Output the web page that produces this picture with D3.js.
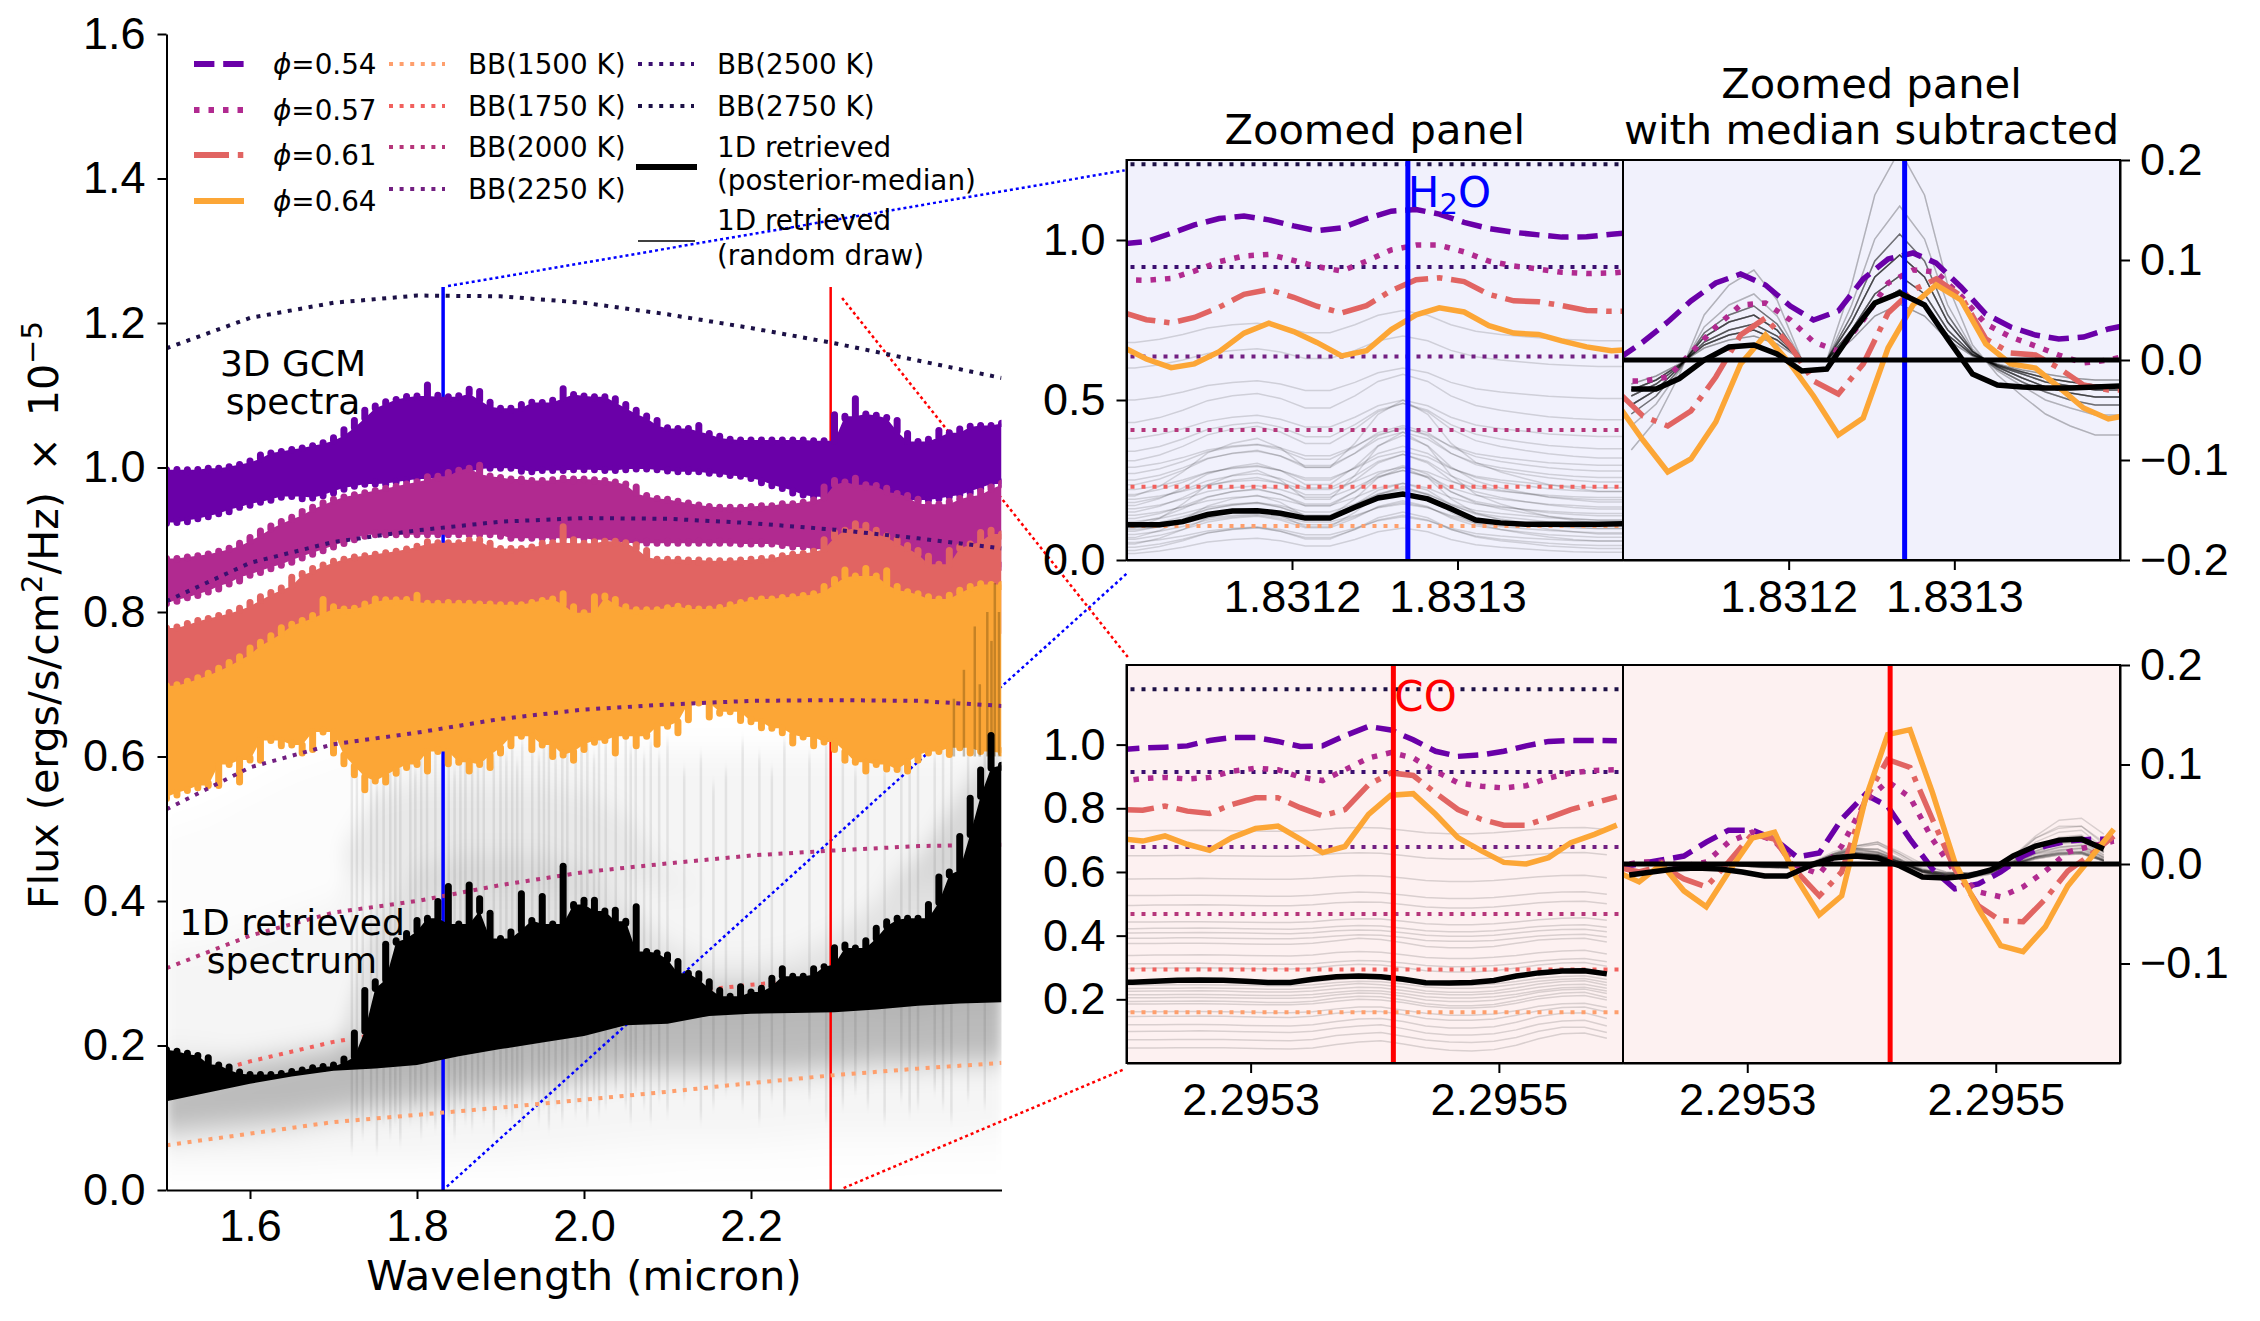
<!DOCTYPE html>
<html>

<head>
    <meta charset="utf-8">
    <style>
        body {
            margin: 0;
            background: #fff;
        }

        svg {
            display: block;
            font-family: "DejaVu Sans", sans-serif;
        }

        .tick text {
            font-size: 45px;
            fill: #000;
        }

        .tick line,
        .domain {
            stroke: #000;
            stroke-width: 2px;
        }

        .legend text {
            font-size: 27.8px;
        }
    </style>
</head>

<body>
    <svg width="2260" height="1321"></svg>
</body>

<script src="https://d3js.org/d3.v7.min.js"></script>

<script>
    // ---- main panel: edges of the spectra ----
    let mainWave = [
        1.5, 1.5125, 1.525, 1.5375, 1.55, 1.5625, 1.575, 1.5875, 1.6, 1.6125,
        1.625, 1.6375, 1.65, 1.6625, 1.675, 1.6875, 1.7, 1.7125, 1.725, 1.7375,
        1.75, 1.7625, 1.775, 1.7875, 1.8, 1.8125, 1.825, 1.8375, 1.85, 1.8625,
        1.875, 1.8875, 1.9, 1.9125, 1.925, 1.9375, 1.95, 1.9625, 1.975, 1.9875,
        2.0, 2.0125, 2.025, 2.0375, 2.05, 2.0625, 2.075, 2.0875, 2.1, 2.1125,
        2.125, 2.1375, 2.15, 2.1625, 2.175, 2.1875, 2.2, 2.2125, 2.225, 2.2375,
        2.25, 2.2625, 2.275, 2.2875, 2.3, 2.3125, 2.325, 2.3375, 2.35, 2.3625,
        2.375, 2.3875, 2.4, 2.4125, 2.425, 2.4375, 2.45, 2.4625, 2.475, 2.4875,
        2.5]

    let coarseWave = [1.5, 1.55, 1.6, 1.65, 1.7, 1.75, 1.8, 1.85, 1.9, 1.95, 2.0, 2.05, 2.1, 2.15, 2.2, 2.25, 2.3, 2.35, 2.4, 2.45, 2.5]

    let phi054Top = [
        .999, 1.002, .999, 1.002, 1.001, 1.003, 1.006, 1.009, 1.014, 1.022,
        1.024, 1.027, 1.029, 1.032, 1.035, 1.039, 1.046, 1.057, 1.070, 1.084,
        1.090, 1.096, 1.099, 1.103, 1.101, 1.119, 1.105, 1.100, 1.104, 1.113,
        1.110, 1.095, 1.086, 1.084, 1.092, 1.095, 1.092, 1.098, 1.114, 1.103,
        1.103, 1.101, 1.100, 1.100, 1.092, 1.084, 1.076, 1.070, 1.060, 1.056,
        1.058, 1.063, 1.052, 1.048, 1.043, 1.041, 1.040, 1.042, 1.040, 1.041,
        1.043, 1.040, 1.040, 1.039, 1.078, 1.073, 1.100, 1.076, 1.077, 1.074,
        1.070, 1.052, 1.038, 1.044, 1.056, 1.050, 1.058, 1.062, 1.060, 1.063,
        1.066]
    let phi054Bottom = [
        .918, .922, .920, .925, .927, .931, .934, .940, .943, .948,
        .950, .954, .958, .952, .953, .956, .960, .965, .970, .972,
        .975, .972, .976, .978, .980, .982, .980, .984, .987, .988,
        .992, .996, .997, .995, .990, .992, .992, .994, .993, .994,
        .995, .993, .992, .994, .992, .996, .995, .993, .992, .990,
        .992, .990, .989, .987, .986, .983, .980, .974, .970, .966,
        .960, .958, .955, .957, .955, .952, .950, .952, .950, .952,
        .948, .950, .953, .950, .952, .955, .958, .960, .965, .970,
        .975]
    let phi057Top = [
        .876, .878, .880, .882, .885, .889, .893, .900, .908, .917,
        .924, .930, .936, .944, .950, .956, .961, .964, .967, .970,
        .973, .976, .979, .982, .985, .992, .990, .998, 1.001, 1.002,
        1.008, .993, .990, .988, .986, .987, .984, .988, .990, .986,
        .988, .986, .985, .984, .982, .978, .966, .962, .959, .958,
        .955, .953, .950, .948, .947, .948, .950, .949, .952, .952,
        .954, .956, .960, .978, .987, .982, .990, .978, .980, .976,
        .968, .966, .961, .952, .951, .958, .962, .964, .972, .978,
        .983]
    let phi057Bottom = [
        .807, .810, .815, .818, .823, .827, .834, .838, .846, .850,
        .855, .860, .864, .870, .875, .880, .885, .890, .895, .900,
        .905, .905, .905, .905, .905, .905, .905, .905, .905, .905,
        .905, .905, .900, .900, .900, .900, .900, .900, .900, .900,
        .898, .898, .896, .894, .893, .892, .893, .891, .893, .892,
        .892, .893, .891, .893, .892, .890, .892, .892, .890, .888,
        .888, .885, .885, .885, .885, .885, .885, .880, .880, .880,
        .860, .860, .860, .860, .860, .860, .860, .860, .860, .860,
        .860]
    let phi061Top = [
        .780, .784, .789, .793, .796, .800, .804, .810, .818, .826,
        .832, .838, .853, .858, .865, .870, .875, .878, .880, .882,
        .884, .886, .889, .892, .896, .902, .899, .898, .900, .904,
        .905, .900, .892, .890, .892, .894, .900, .898, .923, .905,
        .897, .902, .901, .900, .900, .898, .890, .878, .875, .876,
        .875, .874, .875, .873, .875, .874, .878, .876, .880, .882,
        .883, .885, .889, .905, .915, .918, .927, .925, .918, .910,
        .905, .897, .890, .882, .868, .890, .895, .899, .915, .918,
        .91]
    let phi064Top = [
        .700, .704, .709, .714, .720, .727, .735, .743, .755, .763,
        .772, .783, .788, .793, .800, .822, .812, .806, .810, .816,
        .823, .820, .819, .822, .828, .816, .814, .818, .815, .814,
        .816, .813, .815, .812, .815, .818, .820, .822, .830, .812,
        .801, .826, .827, .822, .812, .806, .805, .808, .810, .812,
        .810, .806, .807, .811, .815, .818, .821, .820, .822, .823,
        .825, .826, .830, .840, .850, .863, .852, .865, .852, .862,
        .840, .832, .830, .826, .820, .828, .835, .840, .844, .842,
        .84]
    let phi064Bottom = [
        .537, .542, .548, .552, .558, .555, .587, .560, .593, .590,
        .620, .610, .614, .600, .605, .632, .600, .585, .570, .549,
        .564, .560, .572, .580, .587, .575, .605, .585, .590, .575,
        .587, .580, .600, .610, .626, .605, .614, .595, .600, .590,
        .605, .615, .620, .600, .626, .610, .626, .612, .640, .628,
        .646, .672, .650, .655, .660, .645, .646, .635, .637, .628,
        .614, .625, .610, .618, .605, .590, .590, .575, .587, .578,
        .580, .575, .590, .600, .605, .598, .610, .600, .605, .598,
        .603]
    let retrievedTop = [
        .196, .197, .194, .190, .188, .176, .175, .168, .163, .162,
        .163, .166, .168, .171, .174, .173, .178, .186, .222, .281,
        .293, .345, .350, .360, .378, .378, .404, .425, .370, .427,
        .408, .388, .350, .362, .415, .375, .411, .370, .453, .397,
        .406, .406, .388, .392, .374, .397, .332, .332, .330, .321,
        .302, .304, .293, .281, .270, .286, .276, .284, .298, .311,
        .298, .300, .311, .314, .340, .344, .337, .350, .367, .376,
        .381, .378, .378, .400, .438, .445, .494, .547, .586, .634,
        .590]

    let phi061Bottom = [.665, .69, .72, .74, .76, .77, .78, .78, .78, .78, .78, .79, .79, .79, .78, .78, .78, .77, .76, .76, .77]
    let retrievedBottom = [.123, .135, .147, .157, .165, .168, .173, .185, .195, .204, .213, .228, .23, .241, .244, .245, .246, .25, .255, .258, .26]

    // grey haze of the random draws behind everything
    let hazeTops = [
        [.50, .52, .55, .58, .60, .62, .62, .62, .62, .62, .62, .62, .62, .62, .62, .62, .62, .62, .62, .62, .62],
        [.33, .34, .36, .38, .40, .55, .60, .62, .62, .62, .60, .60, .60, .60, .60, .60, .60, .60, .60, .60, .60],
        [.46, .46, .46, .46, .46, .55, .56, .56, .56, .56, .55, .52, .44, .42, .42, .42, .42, .42, .46, .56, .62],
        [.19, .185, .175, .175, .19, .38, .44, .46, .46, .46, .44, .40, .34, .31, .31, .32, .35, .40, .46, .54, .62],
        [.15, .16, .175, .185, .195, .20, .21, .22, .23, .235, .245, .26, .265, .27, .27, .275, .275, .28, .285, .29, .29]]
    let hazeBottoms = [
        [.02, .02, .02, .02, .02, .02, .02, .02, .02, .02, .02, .02, .025, .03, .03, .03, .035, .035, .04, .04, .04],
        [.04, .04, .04, .04, .045, .045, .045, .05, .05, .055, .06, .065, .07, .07, .07, .075, .08, .08, .08, .08, .085],
        [.46, .46, .46, .46, .46, .42, .42, .42, .42, .42, .42, .42, .42, .42, .42, .42, .42, .42, .42, .42, .42],
        [.16, .16, .17, .17, .18, .18, .18, .19, .20, .21, .22, .23, .24, .24, .24, .25, .25, .25, .25, .26, .26],
        [.08, .085, .09, .095, .105, .115, .12, .13, .135, .145, .155, .165, .165, .165, .165, .165, .17, .175, .175, .178, .178]]
    let hazeAlpha = [.012, .03, .05, .08, .24]

    // vertical streaks in the haze
    let streakWave = [1.722, 1.728, 1.735, 1.745, 1.752, 1.76, 1.768, 1.774, 1.78, 1.792, 1.798, 1.805, 1.812, 1.822, 1.83, 1.838, 1.845, 1.852, 1.858, 1.866, 1.873, 1.88, 1.892, 1.9, 1.907, 1.914, 1.92, 1.926, 1.938, 1.946, 1.952, 1.958, 1.966, 1.974, 1.98, 1.99, 1.997, 2.004, 2.012, 2.018, 2.026, 2.038, 2.05, 2.056, 2.062, 2.072, 2.08, 2.09, 2.1, 2.12, 2.14, 2.155, 2.17, 2.19, 2.21, 2.225, 2.24, 2.27, 2.29, 2.31, 2.325, 2.34, 2.36, 2.38, 2.39, 2.4, 2.42, 2.43, 2.44, 2.46, 2.48]
    let streakTop = [.60, .58, .60, .61, .56, .62, .60, .58, .62, .61, .58, .62, .60, .61, .60, .62, .58, .61, .60, .62, .59, .62, .60, .62, .60, .62, .59, .62, .61, .60, .62, .62, .60, .62, .62, .60, .62, .62, .60, .63, .62, .60, .64, .61, .63, .60, .62, .60, .62, .58, .60, .56, .58, .62, .60, .58, .62, .60, .62, .60, .58, .60, .58, .60, .61, .60, .60, .61, .62, .61, .62]
    let streakBottom = [.06, .10, .08, .10, .06, .10, .08, .10, .07, .10, .12, .08, .10, .09, .12, .10, .08, .12, .10, .09, .12, .10, .08, .12, .11, .10, .12, .09, .12, .10, .12, .09, .12, .10, .13, .11, .12, .10, .13, .11, .12, .14, .12, .10, .14, .12, .10, .13, .11, .13, .10, .12, .14, .12, .10, .13, .11, .13, .10, .12, .14, .12, .10, .13, .11, .12, .14, .12, .10, .13, .12]

    // darker stripes showing through the orange spectrum at the red end
    let stripeWave = [2.443, 2.455, 2.468, 2.474, 2.483, 2.488, 2.492, 2.497]
    let stripeTop = [.68, .72, .78, .70, .80, .76, .84, .80]

    // blackbody curves in the main panel
    let bbWave = [1.5, 1.6, 1.7, 1.8, 1.9, 2.0, 2.1, 2.2, 2.3, 2.4, 2.5]
    let bb1500 = [.062, .078, .094, .104, .114, .125, .136, .148, .159, .168, .176]
    let bb1750 = [.145, .178, .205, .225, .243, .258, .272, .284, .294, .303, .31]
    let bb2000 = [.307, .352, .384, .400, .422, .44, .452, .463, .47, .476, .478]
    let bb2250 = [.527, .585, .617, .633, .652, .665, .672, .677, .678, .677, .67]
    let bb2500 = [.815, .868, .897, .913, .925, .93, .929, .923, .914, .902, .888]
    let bb2750 = [1.165, 1.207, 1.228, 1.238, 1.237, 1.228, 1.212, 1.193, 1.172, 1.148, 1.124]

    // ---- zoomed panels ----
    let waveH2O = 1.83127
    let waveCO = 2.295415

    let bbLevelsH2O = [.106, .229, .406, .636, .916, 1.237]
    let bbLevelsCO = [.159, .294, .468, .678, .914, 1.174]

    let gridH2O = [1.831097, 1.831112, 1.831127, 1.831141, 1.831156, 1.831171, 1.831186, 1.831201, 1.831215, 1.83123, 1.831245, 1.83126, 1.831275, 1.831289, 1.831304, 1.831319, 1.831334, 1.831349, 1.831363, 1.831378, 1.831393, 1.831408]
    let phi054H2O = [.988, .995, 1.021, 1.047, 1.067, 1.075, 1.063, 1.044, 1.029, 1.038, 1.067, 1.090, 1.095, 1.081, 1.055, 1.036, 1.024, 1.016, 1.009, 1.010, 1.018, 1.024]
    let phi057H2O = [.876, .874, .880, .903, .932, .950, .955, .936, .917, .903, .934, .969, .984, .984, .963, .934, .919, .909, .899, .895, .897, .903]
    let phi061H2O = [.775, .751, .741, .758, .790, .830, .845, .821, .793, .772, .795, .842, .876, .882, .870, .830, .810, .807, .795, .780, .777, .777]
    let phi064H2O = [.668, .628, .601, .613, .651, .709, .740, .714, .680, .638, .654, .720, .766, .788, .775, .732, .709, .705, .685, .666, .654, .659]
    let phi054H2OSub = [.001, .018, .038, .059, .077, .086, .075, .054, .040, .049, .081, .101, .107, .097, .073, .046, .033, .025, .021, .023, .031, .036]
    let phi057H2OSub = [-.021, -.021, -.017, .007, .033, .055, .057, .040, .018, .009, .040, .077, .090, .088, .064, .036, .023, .014, .005, -.003, 0, .006]
    let phi061H2OSub = [-.032, -.056, -.066, -.051, -.017, .025, .042, .014, -.021, -.034, -.004, .047, .070, .081, .064, .021, .007, .005, -.008, -.025, -.030, -.030]
    let phi064H2OSub = [-.045, -.080, -.112, -.099, -.062, -.004, .025, -.004, -.036, -.075, -.058, .012, .055, .075, .060, .016, -.004, -.008, -.027, -.048, -.059, -.054]

    let retGridH2O = [1.83109, 1.831105, 1.83112, 1.831134, 1.831149, 1.831164, 1.831179, 1.831193, 1.831208, 1.831223, 1.831238, 1.831252, 1.831267, 1.831282, 1.831296, 1.831311, 1.831326, 1.831341, 1.831355, 1.83137, 1.831385, 1.8314]
    let medianH2O = [.110, .110, .110, .120, .142, .153, .154, .146, .131, .131, .165, .194, .206, .191, .160, .125, .116, .112, .112, .112, .112, .113]
    let medianH2OSub = [-.029, -.029, -.029, -.0185, 0, .013, .015, .006, -.011, -.009, .027, .057, .067, .055, .021, -.014, -.025, -.027, -.028, -.028, -.027, -.026]

    // a sample of the random draws, one row per draw
    let drawsH2O = [
        [.020, .020, .028, .040, .056, .064, .068, .060, .044, .044, .064, .088, .100, .088, .064, .048, .040, .034, .030, .026, .024, .024],
        [.030, .030, .042, .060, .084, .096, .102, .090, .066, .066, .096, .132, .150, .132, .096, .072, .060, .052, .044, .040, .036, .036],
        [.040, .040, .050, .065, .085, .095, .100, .090, .070, .070, .095, .125, .140, .125, .095, .075, .065, .058, .052, .048, .045, .045],
        [.050, .050, .068, .095, .131, .149, .158, .140, .104, .104, .149, .203, .230, .203, .149, .113, .095, .082, .072, .064, .059, .059],
        [.055, .055, .063, .075, .091, .099, .103, .095, .079, .079, .099, .123, .135, .123, .099, .083, .075, .069, .065, .061, .059, .059],
        [.065, .065, .077, .095, .119, .131, .137, .125, .101, .101, .131, .167, .185, .167, .131, .107, .095, .087, .079, .075, .071, .071],
        [.070, .070, .092, .125, .169, .191, .202, .180, .136, .136, .191, .257, .290, .257, .191, .147, .125, .110, .096, .088, .081, .081],
        [.080, .080, .090, .105, .125, .135, .140, .130, .110, .110, .135, .165, .180, .165, .135, .115, .105, .098, .092, .088, .085, .085],
        [.090, .090, .105, .128, .158, .173, .180, .165, .135, .135, .173, .218, .240, .218, .173, .143, .128, .117, .108, .102, .098, .098],
        [.095, .095, .103, .115, .131, .139, .143, .135, .119, .119, .139, .163, .175, .163, .139, .123, .115, .109, .105, .101, .099, .099],
        [.100, .100, .130, .175, .235, .265, .280, .250, .190, .190, .265, .355, .400, .355, .265, .205, .175, .154, .136, .124, .115, .115],
        [.105, .105, .117, .135, .159, .171, .177, .165, .141, .141, .171, .207, .225, .207, .171, .147, .135, .127, .119, .115, .111, .111],
        [.115, .115, .133, .160, .196, .214, .223, .205, .169, .169, .214, .268, .295, .268, .214, .178, .160, .147, .137, .129, .124, .124],
        [.120, .120, .130, .145, .165, .175, .180, .170, .150, .150, .175, .205, .220, .205, .175, .155, .145, .138, .132, .128, .125, .125],
        [.130, .130, .145, .168, .198, .213, .220, .205, .175, .175, .213, .258, .280, .258, .213, .183, .168, .157, .148, .142, .138, .138],
        [.140, .140, .150, .165, .185, .195, .200, .190, .170, .170, .195, .225, .240, .225, .195, .175, .165, .158, .152, .148, .145, .145],
        [.150, .150, .168, .195, .231, .249, .258, .240, .204, .204, .249, .303, .330, .303, .249, .213, .195, .182, .172, .164, .159, .159],
        [.160, .160, .172, .190, .214, .226, .232, .220, .196, .196, .226, .262, .280, .262, .226, .202, .190, .182, .174, .170, .166, .166],
        [.170, .170, .192, .225, .269, .291, .302, .280, .236, .236, .291, .357, .390, .357, .291, .247, .225, .210, .196, .188, .181, .181],
        [.180, .180, .195, .218, .248, .263, .270, .255, .225, .225, .263, .308, .330, .308, .263, .233, .218, .207, .198, .192, .188, .188],
        [.190, .190, .200, .215, .235, .245, .250, .240, .220, .220, .245, .275, .290, .275, .245, .225, .215, .208, .202, .198, .195, .195],
        [.200, .200, .230, .275, .335, .365, .380, .350, .290, .290, .365, .455, .500, .455, .365, .305, .275, .254, .236, .224, .215, .215],
        [.205, .205, .220, .243, .273, .288, .295, .280, .250, .250, .288, .333, .355, .333, .288, .258, .243, .232, .223, .217, .213, .213],
        [.220, .220, .232, .250, .274, .286, .292, .280, .256, .256, .286, .322, .340, .322, .286, .262, .250, .242, .234, .230, .226, .226],
        [.235, .235, .253, .280, .316, .334, .343, .325, .289, .289, .334, .388, .415, .388, .334, .298, .280, .267, .257, .249, .244, .244],
        [.250, .250, .265, .288, .318, .333, .340, .325, .295, .295, .333, .378, .400, .378, .333, .303, .288, .277, .268, .262, .258, .258],
        [.270, .270, .285, .308, .338, .353, .360, .345, .315, .315, .353, .398, .420, .398, .353, .323, .308, .297, .288, .282, .278, .278],
        [.290, .290, .302, .320, .344, .356, .362, .350, .326, .326, .356, .392, .410, .392, .356, .332, .320, .312, .304, .300, .296, .296],
        [.310, .310, .328, .355, .391, .409, .418, .400, .364, .364, .409, .463, .490, .463, .409, .373, .355, .342, .332, .324, .319, .319],
        [.340, .340, .355, .378, .408, .423, .430, .415, .385, .385, .423, .468, .490, .468, .423, .393, .378, .367, .358, .352, .348, .348],
        [.380, .380, .392, .410, .434, .446, .452, .440, .416, .416, .446, .482, .500, .482, .446, .422, .410, .402, .394, .390, .386, .386],
        [.430, .430, .445, .468, .498, .513, .520, .505, .475, .475, .513, .558, .580, .558, .513, .483, .468, .457, .448, .442, .438, .438],
        [.500, .500, .510, .525, .545, .555, .560, .550, .530, .530, .555, .585, .600, .585, .555, .535, .525, .518, .512, .508, .505, .505],
        [.600, .600, .610, .625, .645, .655, .660, .650, .630, .630, .655, .685, .700, .685, .655, .635, .625, .618, .612, .608, .605, .605],
        [.680, .680, .690, .705, .725, .735, .740, .730, .710, .710, .735, .765, .780, .765, .735, .715, .705, .698, .692, .688, .685, .685]]

    let gridCO = [2.295194, 2.295213, 2.295231, 2.295249, 2.295267, 2.295285, 2.295304, 2.295322, 2.29534, 2.295358, 2.295376, 2.295395, 2.295413, 2.295431, 2.295449, 2.295467, 2.295486, 2.295504, 2.295522, 2.29554, 2.295558, 2.295577, 2.295595]
    let phi054CO = [.984, .989, .992, .996, 1.013, 1.022, 1.022, 1.010, .994, .996, 1.028, 1.057, 1.046, 1.015, .979, .963, .968, .979, .996, 1.010, 1.013, 1.013, 1.012]
    let phi057CO = [.885, .893, .897, .892, .897, .916, .926, .921, .898, .887, .921, .958, .975, .958, .916, .880, .869, .864, .871, .895, .911, .919, .921]
    let phi061CO = [.796, .794, .807, .791, .784, .812, .833, .833, .802, .776, .796, .874, .911, .903, .848, .796, .765, .747, .747, .770, .796, .817, .836]
    let phi064CO = [.705, .697, .713, .687, .668, .708, .737, .744, .703, .661, .680, .781, .841, .846, .781, .708, .666, .630, .625, .645, .692, .718, .747]
    let phi054COSub = [-.004, 0, .004, .008, .022, .034, .034, .025, .007, .011, .045, .070, .058, .025, -.005, -.025, -.020, -.008, .008, .018, .023, .025, .025]
    let phi057COSub = [-.003, .002, .002, -.002, .002, .022, .032, .023, -.002, -.010, .018, .063, .083, .067, .025, -.008, -.028, -.033, -.023, -.007, .012, .018, .023]
    let phi061COSub = [-.003, -.008, -.002, -.015, -.023, .002, .030, .025, -.008, -.032, -.008, .065, .105, .097, .045, -.005, -.042, -.057, -.058, -.035, -.007, .010, .028]
    let phi064COSub = [-.007, -.018, 0, -.027, -.043, -.008, .026, .032, -.015, -.051, -.032, .065, .130, .135, .072, .002, -.045, -.082, -.088, -.063, -.022, .007, .035]

    let retGridCO = [2.295187, 2.295205, 2.295223, 2.295241, 2.295259, 2.295278, 2.295296, 2.295314, 2.295332, 2.29535, 2.295369, 2.295387, 2.295405, 2.295423, 2.295441, 2.29546, 2.295478, 2.295496, 2.295514, 2.295532, 2.295551, 2.295569, 2.295587]
    let medianCO = [.254, .254, .257, .260, .261, .260, .257, .253, .253, .263, .271, .273, .271, .263, .252, .251, .253, .259, .273, .283, .289, .290, .280]
    let medianCOSub = [-.011, -.011, -.008, -.005, -.004, -.005, -.008, -.012, -.012, -.002, .006, .008, .006, -.002, -.013, -.014, -.012, -.006, .008, .018, .024, .025, .015]

    let drawsCO = [
        [.047, .047, .047, .048, .048, .048, .046, .045, .044, .047, .058, .066, .070, .060, .048, .040, .038, .042, .056, .076, .092, .094, .078],
        [.073, .073, .073, .074, .074, .074, .072, .071, .070, .074, .086, .092, .096, .084, .072, .066, .064, .068, .080, .100, .112, .112, .096],
        [.099, .099, .100, .100, .101, .100, .098, .097, .096, .100, .110, .116, .120, .108, .094, .088, .088, .092, .104, .122, .132, .134, .116],
        [.120, .120, .120, .121, .121, .120, .118, .117, .116, .120, .130, .138, .140, .130, .116, .110, .110, .114, .128, .146, .156, .158, .140],
        [.146, .146, .147, .147, .148, .147, .145, .144, .143, .147, .156, .162, .162, .152, .140, .134, .134, .138, .150, .164, .174, .176, .160],
        [.161, .161, .161, .162, .162, .161, .160, .158, .158, .161, .170, .176, .176, .166, .156, .150, .150, .154, .164, .178, .186, .188, .174],
        [.185, .185, .185, .186, .186, .185, .184, .183, .183, .186, .194, .200, .198, .190, .178, .173, .173, .177, .188, .202, .210, .212, .198],
        [.193, .193, .194, .194, .195, .194, .192, .190, .190, .194, .204, .210, .208, .198, .186, .180, .180, .184, .196, .210, .220, .222, .206],
        [.205, .205, .205, .206, .206, .205, .204, .203, .203, .206, .214, .220, .218, .210, .198, .193, .193, .197, .208, .222, .230, .232, .218],
        [.214, .214, .214, .215, .215, .214, .213, .212, .212, .215, .222, .228, .226, .218, .208, .204, .204, .208, .216, .228, .236, .238, .226],
        [.225, .225, .226, .226, .227, .226, .224, .223, .223, .226, .233, .238, .236, .228, .218, .214, .214, .218, .227, .238, .246, .247, .235],
        [.234, .234, .235, .235, .236, .235, .234, .232, .232, .236, .244, .250, .246, .238, .226, .222, .222, .226, .236, .248, .256, .258, .244],
        [.245, .245, .245, .246, .246, .245, .244, .243, .243, .246, .253, .257, .255, .248, .239, .235, .235, .239, .247, .257, .263, .265, .253],
        [.255, .255, .255, .256, .256, .255, .254, .252, .252, .255, .262, .266, .264, .256, .248, .244, .244, .248, .256, .266, .272, .274, .262],
        [.297, .297, .298, .298, .299, .298, .297, .296, .295, .298, .306, .310, .308, .300, .290, .286, .286, .290, .298, .308, .314, .316, .304],
        [.312, .312, .312, .313, .313, .312, .311, .310, .310, .312, .318, .322, .320, .314, .306, .302, .303, .306, .312, .320, .326, .328, .318],
        [.338, .338, .339, .339, .340, .339, .338, .337, .336, .339, .347, .350, .348, .340, .331, .328, .328, .332, .338, .346, .352, .354, .342],
        [.375, .375, .375, .376, .376, .375, .374, .373, .373, .376, .384, .392, .388, .378, .366, .362, .362, .366, .376, .386, .390, .392, .380],
        [.392, .392, .392, .393, .393, .392, .391, .390, .390, .393, .399, .403, .401, .394, .385, .382, .382, .385, .392, .399, .403, .404, .396],
        [.408, .408, .409, .409, .410, .409, .408, .407, .406, .409, .415, .418, .416, .409, .401, .398, .398, .401, .408, .415, .419, .420, .412],
        [.422, .422, .423, .423, .424, .423, .422, .421, .420, .423, .429, .432, .430, .423, .415, .412, .412, .415, .422, .429, .433, .434, .426],
        [.443, .443, .443, .444, .444, .443, .442, .441, .441, .444, .450, .453, .452, .445, .437, .434, .434, .437, .443, .450, .455, .456, .448],
        [.495, .495, .496, .496, .497, .496, .495, .494, .494, .497, .503, .506, .505, .498, .490, .487, .487, .490, .496, .503, .507, .508, .500],
        [.526, .526, .526, .527, .527, .526, .525, .524, .524, .527, .533, .537, .535, .528, .520, .517, .517, .520, .526, .533, .537, .538, .530],
        [.578, .578, .579, .579, .580, .579, .578, .577, .577, .580, .586, .589, .587, .581, .573, .570, .570, .573, .579, .585, .589, .590, .582],
        [.651, .651, .651, .652, .652, .651, .650, .649, .649, .652, .658, .660, .659, .652, .644, .641, .641, .644, .650, .656, .660, .661, .654],
        [.729, .729, .730, .730, .731, .730, .729, .728, .728, .731, .737, .740, .738, .731, .723, .720, .720, .723, .729, .735, .739, .740, .733]]

    let mainXTicks = [1.6, 1.8, 2.0, 2.2]
    let mainYTicks = [0, .2, .4, .6, .8, 1.0, 1.2, 1.4, 1.6]
    let h2oXTicks = [1.8312, 1.8313]
    let coXTicks = [2.2953, 2.2955]
    let h2oYTicks = [0, .5, 1.0]
    let coYTicks = [.2, .4, .6, .8, 1.0]
    let subYTicksH2O = [-.2, -.1, 0, .1, .2]
    let subYTicksCO = [-.1, 0, .1, .2]

    let phiLabels = ["=0.54", "=0.57", "=0.61", "=0.64"]
    let bbLabels = ["BB(1500 K)", "BB(1750 K)", "BB(2000 K)", "BB(2250 K)", "BB(2500 K)", "BB(2750 K)"]

    // same colours as the original (plasma for phases, magma for blackbodies)
    let phiColors = ["#6a00a8", "#b12a90", "#e16462", "#fca636"]
    let phiDash = ["20.4,8.8", "5.5,9", "35,8.8,5.5,8.8", null]
    let bbColors = ["#fe9f6d", "#f1605d", "#b5367a", "#721f81", "#3b0f70", "#1c1146"]

    let svg = d3.select("svg")
    let minus = s => s.replace("-", "\u2212")

    let x = d3.scaleLinear().domain([1.5, 2.5]).range([166.5, 1001.5])
    let y = d3.scaleLinear().domain([0, 1.6]).range([1190, 34])

    svg.append("clipPath").attr("id", "main-clip")
        .append("rect")
        .attr("x", x(1.5)).attr("y", y(1.6))
        .attr("width", x(2.5) - x(1.5)).attr("height", y(0) - y(1.6))

    // soften the haze, mostly up and down
    svg.append("filter").attr("id", "haze-blur")
        .attr("x", "-0.05").attr("width", "1.1").attr("y", "-0.2").attr("height", "1.4")
        .append("feGaussianBlur").attr("stdDeviation", "6 14")
    svg.append("filter").attr("id", "streak-blur")
        .attr("x", "-0.02").attr("width", "1.04").attr("y", "-0.2").attr("height", "1.4")
        .append("feGaussianBlur").attr("stdDeviation", "0 6")

    let main = svg.append("g").attr("clip-path", "url(#main-clip)")
    let outside = svg.append("g") // the connectors run out of the main panel

    let pts = (xs, ys) => d3.zip(xs, ys)
    let line = d3.line().x(d => x(d[0])).y(d => y(d[1]))
    // polygon between a top edge and a bottom edge
    let band = (xt, yt, xb, yb) => line(pts(xt, yt).concat(pts(xb, yb).reverse())) + "Z"

    // haze
    let hazeGroup = main.append("g").attr("filter", "url(#haze-blur)")
    hazeTops.forEach((top, i) => {
        hazeGroup.append("path")
            .attr("d", band(coarseWave, top, coarseWave, hazeBottoms[i]))
            .attr("fill", "#000")
            .attr("opacity", hazeAlpha[i])
    })
    main.append("g").attr("filter", "url(#streak-blur)")
        .selectAll("line")
        .data(streakWave)
        .join("line")
        .attr("x1", d => x(d)).attr("x2", d => x(d))
        .attr("y1", (d, i) => y(streakTop[i]))
        .attr("y2", (d, i) => y(streakBottom[i]))
        .attr("stroke", "#000").attr("stroke-width", 2.5).attr("opacity", .08)

    // connectors from the main panel to the zoomed panels
    let zoomX = d3.scaleLinear().domain([1.8311, 1.8314]).range([1126.5, 1623])
    let zoomXSub = d3.scaleLinear().domain([1.8311, 1.8314]).range([1623, 2120])
    let coX = d3.scaleLinear().domain([2.2952, 2.2956]).range([1126.5, 1623])
    let coXSub = d3.scaleLinear().domain([2.2952, 2.2956]).range([1623, 2120])
    let zoomY = d3.scaleLinear().domain([0, 1.25]).range([560, 160])
    let zoomYSub = d3.scaleLinear().domain([-.2, .2]).range([560, 160])
    let coY = d3.scaleLinear().domain([0, 1.25]).range([1063, 665])
    let coYSub = d3.scaleLinear().domain([-.2, .2]).range([1063, 665])

    function connector(wave, vMain, px, py, color, dash) {
        let x0 = x(wave), y0 = y(vMain)
        let len = Math.hypot(px - x0, py - y0)
        let ux = (px - x0) / len, uy = (py - y0) / len
        outside.append("line")
            .attr("x1", x0 + ux * 5).attr("y1", y0 + uy * 5)
            .attr("x2", px - ux * 14).attr("y2", py - uy * 14)
            .attr("stroke", color).attr("stroke-width", 2.5)
            .attr("stroke-dasharray", dash)
    }
    connector(waveH2O, 1.25, zoomX.range()[0] + 12, zoomY(1.25) + 8, "#00f", "3,3")
    connector(waveH2O, 0, zoomX.range()[0] + 12, zoomY(0) + 3, "#00f", "3,3")
    connector(waveCO + .01, 1.24, coX.range()[0] + 10, coY(1.25) + 3, "#f00", "3,3")
    connector(waveCO + .01, 0, coX.range()[0] + 10, coY(0) + 1, "#f00", "3,3")

    let vlineGroup = svg.append("g")
    vlineGroup.append("line")
        .attr("x1", x(waveH2O)).attr("x2", x(waveH2O))
        .attr("y1", y(1.25)).attr("y2", y(0))
        .attr("stroke", "#00f").attr("stroke-width", 3.5)
    vlineGroup.append("line")
        .attr("x1", x(waveCO)).attr("x2", x(waveCO))
        .attr("y1", y(1.25)).attr("y2", y(0))
        .attr("stroke", "#f00").attr("stroke-width", 2.5)

    let bandGroup = svg.append("g").attr("clip-path", "url(#main-clip)")

    // a flat body and one round-capped stroke per sample, which gives the spectrum its bumpy edge
    let lobeWidth = 7
    function innerEdge(vals, pick) {
        return vals.map((v, i) => pick(vals[Math.max(i - 1, 0)], v, vals[Math.min(i + 1, vals.length - 1)]))
    }
    function lobes(values, inner, shift, color) {
        bandGroup.append("g").selectAll("line")
            .data(mainWave)
            .join("line")
            .attr("x1", d => x(d)).attr("x2", d => x(d))
            .attr("y1", (d, i) => y(values[i]) + shift)
            .attr("y2", (d, i) => y(inner[i]))
            .attr("stroke", color)
            .attr("stroke-width", lobeWidth)
            .attr("stroke-linecap", "round")
    }
    function spectrum(top, bottomWave, bottom, color) {
        let innerTop = innerEdge(top, (a, b, c) => Math.min(a, b, c) - .002)
        let fine = bottomWave.length == mainWave.length
        let innerBottom = fine ? innerEdge(bottom, (a, b, c) => Math.max(a, b, c) + .002) : bottom
        bandGroup.append("path")
            .attr("d", band(mainWave, innerTop, bottomWave, innerBottom))
            .attr("fill", color)
        lobes(top, innerTop, lobeWidth / 2, color)
        if (fine) lobes(bottom, innerBottom, -lobeWidth / 2, color)
    }

    // the four GCM spectra
    spectrum(phi054Top, mainWave, phi054Bottom, phiColors[0])
    spectrum(phi057Top, mainWave, phi057Bottom, phiColors[1])
    spectrum(phi061Top, coarseWave, phi061Bottom, phiColors[2])
    spectrum(phi064Top, mainWave, phi064Bottom, phiColors[3])

    bandGroup.append("g").selectAll("line")
        .data(stripeWave)
        .join("line")
        .attr("x1", d => x(d)).attr("x2", d => x(d))
        .attr("y1", (d, i) => y(stripeTop[i]))
        .attr("y2", y(.6))
        .attr("stroke", "#4a3000").attr("stroke-width", 2.5).attr("opacity", .3)

    // blackbodies
    let bbSeries = [bb1500, bb1750, bb2000, bb2250, bb2500, bb2750]
    bbSeries.forEach((vals, i) => {
        bandGroup.append("path")
            .attr("d", line(pts(bbWave, vals)))
            .attr("fill", "none")
            .attr("stroke", bbColors[i])
            .attr("stroke-width", 4)
            .attr("stroke-dasharray", "4,6.6")
    })

    // the retrieved spectrum sits on top
    spectrum(retrievedTop, coarseWave, retrievedBottom, "#000")

    // main axes
    svg.append("g")
        .attr("transform", `translate(0,${y(0)})`)
        .call(d3.axisBottom(x).tickValues(mainXTicks).tickSize(9).tickPadding(10).tickFormat(d3.format(".1f")).tickSizeOuter(0))
    svg.append("g")
        .attr("transform", `translate(${x(1.5)},0)`)
        .call(d3.axisLeft(y).tickValues(mainYTicks).tickSize(9).tickPadding(12).tickFormat(d3.format(".1f")).tickSizeOuter(0))

    svg.append("text")
        .attr("x", x(2)).attr("y", 1290)
        .attr("text-anchor", "middle").attr("font-size", 41.6)
        .text("Wavelength (micron)")

    let ylab = svg.append("text")
        .attr("transform", "translate(58,615) rotate(-90)")
        .attr("text-anchor", "middle").attr("font-size", 41.2)
    ylab.append("tspan").text("Flux (ergs/s/cm")
    ylab.append("tspan").attr("font-size", 29).attr("dy", -16).text("2")
    ylab.append("tspan").attr("dy", 16).text("/Hz)\u2002\u00d7\u200210")
    ylab.append("tspan").attr("font-size", 29).attr("dy", -16).text("\u22125")

    function twoLines(cx, y1, y2, a, b) {
        [[y1, a], [y2, b]].forEach(d => {
            svg.append("text").attr("x", cx).attr("y", d[0])
                .attr("text-anchor", "middle").attr("font-size", 36)
                .text(d[1])
        })
    }
    twoLines(293, 376, 414, "3D GCM", "spectra")
    twoLines(292, 935, 973, "1D retrieved", "spectrum")

    // ---- legend ----
    let legend = svg.append("g").attr("class", "legend")
    let phiRowY = [64, 110, 155, 201]
    phiLabels.forEach((lab, i) => {
        legend.append("line")
            .attr("x1", 194).attr("x2", 244).attr("y1", phiRowY[i]).attr("y2", phiRowY[i])
            .attr("stroke", phiColors[i]).attr("stroke-width", 6)
            .attr("stroke-dasharray", phiDash[i])
        let t = legend.append("text").attr("x", 273).attr("y", phiRowY[i] + 10)
        t.append("tspan").attr("font-style", "italic").text("\u03d5")
        t.append("tspan").text(lab)
    })
    let bbRows = [[389, 64], [389, 106], [389, 147], [389, 189], [638, 64], [638, 106]]
    bbLabels.forEach((lab, i) => {
        let r = bbRows[i]
        legend.append("line")
            .attr("x1", r[0]).attr("x2", r[0] + 56).attr("y1", r[1]).attr("y2", r[1])
            .attr("stroke", bbColors[i]).attr("stroke-width", 4)
            .attr("stroke-dasharray", "4,6.6")
        legend.append("text").attr("x", r[0] + 79).attr("y", r[1] + 10).text(lab)
    })
    legend.append("line").attr("x1", 636).attr("x2", 697).attr("y1", 167).attr("y2", 167)
        .attr("stroke", "#000").attr("stroke-width", 6)
    legend.append("line").attr("x1", 638).attr("x2", 695).attr("y1", 241).attr("y2", 241)
        .attr("stroke", "#000").attr("stroke-width", 1.5)
    let retrievedLabels = [["1D retrieved", 157], ["(posterior-median)", 190], ["1D retrieved", 230], ["(random draw)", 265]]
    retrievedLabels.forEach(d => {
        legend.append("text").attr("x", 717).attr("y", d[1]).text(d[0])
    })

    // ---- zoomed panels ----
    function panel(id, xs, ys, bg) {
        let [x0, x1] = xs.range(), [y0, y1] = ys.range()
        svg.append("clipPath").attr("id", id).append("rect")
            .attr("x", x0).attr("y", y1).attr("width", x1 - x0).attr("height", y0 - y1)
        svg.append("rect")
            .attr("x", x0).attr("y", y1).attr("width", x1 - x0).attr("height", y0 - y1)
            .attr("fill", bg)
        return svg.append("g").attr("clip-path", `url(#${id})`)
    }
    function frame(xs, ys) {
        let [x0, x1] = xs.range(), [y0, y1] = ys.range()
        svg.append("rect")
            .attr("x", x0).attr("y", y1).attr("width", x1 - x0).attr("height", y0 - y1)
            .attr("fill", "none").attr("stroke", "#000").attr("stroke-width", 2)
    }
    function drawSeries(g, xs, ys, grid, vals, color, width, dash) {
        g.append("path")
            .attr("d", d3.line().defined(d => d[1] != null).x(d => xs(d[0])).y(d => ys(d[1]))(d3.zip(grid, vals)))
            .attr("fill", "none")
            .attr("stroke", color)
            .attr("stroke-width", width)
            .attr("stroke-dasharray", dash)
    }
    function vline(g, xs, ys, wave, color) {
        g.append("line")
            .attr("x1", xs(wave)).attr("x2", xs(wave))
            .attr("y1", ys.range()[0]).attr("y2", ys.range()[1])
            .attr("stroke", color).attr("stroke-width", 5)
    }
    function zoomPair(c) {
        let left = panel(c.id + "-l", c.xl, c.yl, c.bg)
        let right = panel(c.id + "-r", c.xr, c.yr, c.bg)

        c.draws.forEach(vals => {
            drawSeries(left, c.xl, c.yl, c.retGrid, vals, "rgba(0,0,0,.14)", 1.5, null)
            // subtract each draw's own median, first point falls outside the window
            let med = d3.median(vals)
            let sub = vals.map((v, i) => i == 0 ? null : v - med)
            drawSeries(right, c.xr, c.yr, c.retGrid, sub, "rgba(0,0,0,.14)", 1.5, null)
        })
        c.bb.forEach((v, i) => {
            left.append("line")
                .attr("x1", c.xl.range()[0] + 4).attr("x2", c.xl.range()[1])
                .attr("y1", c.yl(v)).attr("y2", c.yl(v))
                .attr("stroke", bbColors[i]).attr("stroke-width", 4)
                .attr("stroke-dasharray", "4,7")
        })
        c.phi.forEach((vals, i) => drawSeries(left, c.xl, c.yl, c.grid, vals, phiColors[i], 5.5, phiDash[i]))
        drawSeries(left, c.xl, c.yl, c.retGrid, c.median, "#000", 5.5, null)
        vline(left, c.xl, c.yl, c.wave, c.color)

        c.phiSub.forEach((vals, i) => drawSeries(right, c.xr, c.yr, c.grid, vals, phiColors[i], 5.5, phiDash[i]))
        vline(right, c.xr, c.yr, c.wave, c.color)
        drawSeries(right, c.xr, c.yr, c.retGrid, [null].concat(c.medianSub.slice(1)), "#000", 5.5, null)
        right.append("line")
            .attr("x1", c.xr.range()[0]).attr("x2", c.xr.range()[1])
            .attr("y1", c.yr(0)).attr("y2", c.yr(0))
            .attr("stroke", "#000").attr("stroke-width", 5)

        frame(c.xl, c.yl)
        frame(c.xr, c.yr)

        svg.append("g").attr("transform", `translate(0,${c.yl.range()[0]})`)
            .call(d3.axisBottom(c.xl).tickValues(c.xTicks).tickSize(10).tickPadding(10).tickFormat(d3.format(".4f")).tickSizeOuter(0))
        svg.append("g").attr("transform", `translate(0,${c.yr.range()[0]})`)
            .call(d3.axisBottom(c.xr).tickValues(c.xTicks).tickSize(10).tickPadding(10).tickFormat(d3.format(".4f")).tickSizeOuter(0))
        svg.append("g").attr("transform", `translate(${c.xl.range()[0]},0)`)
            .call(d3.axisLeft(c.yl).tickValues(c.yTicks).tickSize(10).tickPadding(11).tickFormat(d3.format(".1f")).tickSizeOuter(0))
        svg.append("g").attr("transform", `translate(${c.xr.range()[1]},0)`)
            .call(d3.axisRight(c.yr).tickValues(c.yTicksSub).tickSize(10).tickPadding(10).tickFormat(v => minus(d3.format(".1f")(Math.abs(v) < 1e-9 ? 0 : v))).tickSizeOuter(0))
    }

    zoomPair({
        id: "h2o", xl: zoomX, xr: zoomXSub, yl: zoomY, yr: zoomYSub, bg: "#f1f1fc",
        grid: gridH2O, retGrid: retGridH2O, draws: drawsH2O, bb: bbLevelsH2O,
        phi: [phi054H2O, phi057H2O, phi061H2O, phi064H2O],
        phiSub: [phi054H2OSub, phi057H2OSub, phi061H2OSub, phi064H2OSub],
        median: medianH2O, medianSub: medianH2OSub,
        wave: waveH2O, color: "#00f", xTicks: h2oXTicks, yTicks: h2oYTicks, yTicksSub: subYTicksH2O
    })
    zoomPair({
        id: "co", xl: coX, xr: coXSub, yl: coY, yr: coYSub, bg: "#fdf1f1",
        grid: gridCO, retGrid: retGridCO, draws: drawsCO, bb: bbLevelsCO,
        phi: [phi054CO, phi057CO, phi061CO, phi064CO],
        phiSub: [phi054COSub, phi057COSub, phi061COSub, phi064COSub],
        median: medianCO, medianSub: medianCOSub,
        wave: waveCO, color: "#f00", xTicks: coXTicks, yTicks: coYTicks, yTicksSub: subYTicksCO
    })

    let title = (cx, yy, s) => svg.append("text").attr("x", cx).attr("y", yy)
        .attr("text-anchor", "middle").attr("font-size", 41.6).text(s)
    title(zoomX(1.83125), 144, "Zoomed panel")
    title(zoomXSub(1.83125), 98, "Zoomed panel")
    title(zoomXSub(1.83125), 144, "with median subtracted")

    let h2o = svg.append("text").attr("x", zoomX(waveH2O)).attr("y", 207).attr("font-size", 42).attr("fill", "#00f")
    h2o.append("tspan").text("H")
    h2o.append("tspan").attr("font-size", 29).attr("dy", 7).text("2")
    h2o.append("tspan").attr("dy", -7).text("O")
    svg.append("text").attr("x", coX(waveCO) + 1).attr("y", 711).attr("font-size", 42).attr("fill", "#f00").text("CO")
</script>

</html>
